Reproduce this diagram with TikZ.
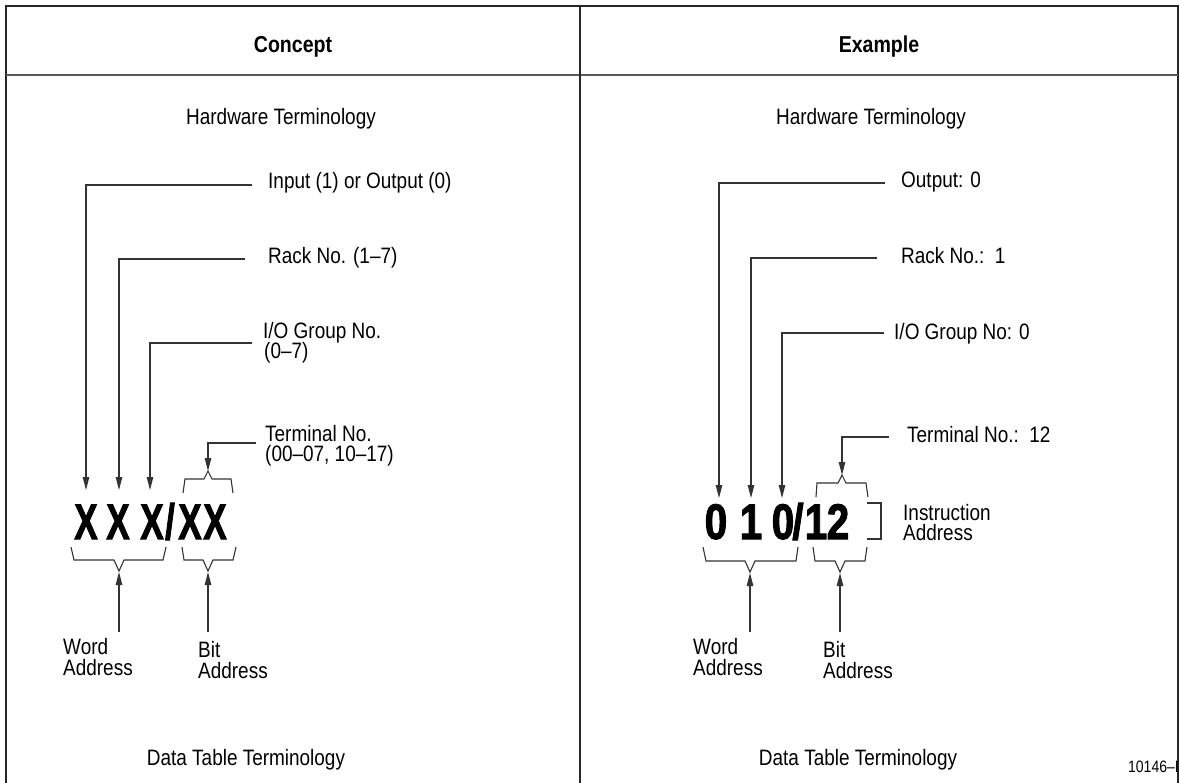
\documentclass[tikz,border=0pt]{standalone}
\usepackage{fontspec}
\setmainfont{Liberation Sans}[FakeStretch=0.85]
\newfontfamily\bigfont{Liberation Sans}[FakeStretch=0.85, BoldFeatures={FakeBold=2}]
\usetikzlibrary{arrows.meta}
\begin{document}
\begin{tikzpicture}[x=1pt,y=-1pt,
  lbl/.style={anchor=base west, inner sep=0pt, font=\fontsize{22.3}{21}\selectfont},
  ttl/.style={anchor=base, inner sep=0pt, font=\fontsize{22.3}{21}\selectfont},
  hdr/.style={anchor=base, inner sep=0pt, font=\fontsize{23}{23}\selectfont\bfseries},
  big/.style={anchor=base, inner sep=0pt, font=\fontsize{50}{50}\bigfont\bfseries},
  conn/.style={draw=black!80, line width=1.1pt},
  arr/.style={conn, -{Triangle[length=13pt,width=6.5pt]}},
  brk/.style={draw=black!80, line width=1.1pt, line join=miter},
  frm/.style={draw=black!85, line width=1.5pt},
]
\useasboundingbox (0,0) rectangle (1180,782);
% frame
\draw[frm] (6,790) -- (6,6) -- (1178,6) -- (1178,790);
\draw[frm, draw=black!65] (6,75) -- (1178,75);
\draw[frm, line width=1.2pt] (580,6) -- (580,790);

% headers
\node[hdr] (hc) at (293,52) {Concept};
\node[hdr] (he) at (879,52) {Example};
\node[ttl] (hwc) at (281,124) {Hardware Terminology};
\node[ttl] (hwe) at (871,124) {Hardware Terminology};
\node[ttl] (dtc) at (246,765) {Data Table Terminology};
\node[ttl] (dte) at (858,765) {Data Table Terminology};
\node[anchor=base east, inner sep=0pt, font=\fontsize{16.5}{16.5}\selectfont] (fig) at (1179,772) {10146–I};

% ---------- Concept ----------
\node[lbl] (cl1) at (268,188) {Input (1) or Output (0)};
\node[lbl] (cl2) at (268,263) {Rack No. (1–7)};
\node[lbl] (cl3a) at (263,338) {I/O Group No.};
\node[lbl] (cl3b) at (264,358) {(0–7)};
\node[lbl] (cl4a) at (265,441) {Terminal No.};
\node[lbl] (cl4b) at (265,461) {(00–07, 10–17)};

\node[big] (cx1) at (86,539) {\scalebox{0.82}[1]{X}};
\node[big] (cx2) at (118,539) {\scalebox{0.82}[1]{X}};
\node[big] (cx3) at (152,539) {\scalebox{0.82}[1]{X}};
\node[big] (cxs) at (170,539) {\scalebox{0.82}[1]{/}};
\node[big] (cx4) at (190,539) {\scalebox{0.82}[1]{X}};
\node[big] (cx5) at (215,539) {\scalebox{0.82}[1]{X}};

\coordinate (cs1) at (252,185);
\coordinate (cs2) at (245,259);
\coordinate (cs3) at (252,343);
\coordinate (cs4) at (256,443);
\coordinate (ct1) at (86,490);
\coordinate (ct2) at (119,490);
\coordinate (ct3) at (150,490);
\coordinate (ct4) at (208,471);
\draw[arr] (cs1) -| (ct1);
\draw[arr] (cs2) -| (ct2);
\draw[arr] (cs3) -| (ct3);
\draw[arr] (cs4) -| (ct4);

\draw[brk] (183,493) -- (185,479) -- (204,479) -- (208,471) -- (212,479) -- (231,479) -- (233,493);
\draw[brk] (71,547) -- (74,560) -- (114,560) -- (119,571) -- (124,560) -- (163,560) -- (166,547);
\draw[brk] (182,547) -- (184,560) -- (203,560) -- (208,571) -- (213,560) -- (233,560) -- (236,547);

\coordinate (cwb) at (119,632);
\coordinate (cwt) at (119,572);
\coordinate (cbb) at (208,632);
\coordinate (cbt) at (208,572);
\draw[arr] (cwb) -- (cwt);
\draw[arr] (cbb) -- (cbt);

\node[lbl] (cw1) at (63,654) {Word};
\node[lbl] (cw2) at (63,675) {Address};
\node[lbl] (cb1) at (198,657) {Bit};
\node[lbl] (cb2) at (198,678) {Address};

% ---------- Example ----------
\node[lbl] (el1) at (901,187) {Output: 0};
\node[lbl] (el2) at (901,263) {Rack No.:\ \ 1};
\node[lbl] (el3) at (894,339) {I/O Group No: 0};
\node[lbl] (el4) at (907,442) {Terminal No.:\ \ 12};

\node[big] (ed1) at (716,539) {\scalebox{0.95}[1]{0}};
\node[big] (ed2) at (751,539) {\scalebox{0.95}[1]{1}};
\node[big] (ed3) at (783,539) {\scalebox{0.95}[1]{0}};
\node[big] (eds) at (798,539) {\scalebox{0.95}[1]{/}};
\node[big] (ed4) at (816,539) {\scalebox{0.95}[1]{1}};
\node[big] (ed5) at (838,539) {\scalebox{0.95}[1]{2}};

\coordinate (es1) at (885,183);
\coordinate (es2) at (877,258);
\coordinate (es3) at (884,333);
\coordinate (es4) at (889,437);
\coordinate (et1) at (719,498);
\coordinate (et2) at (751,498);
\coordinate (et3) at (782,498);
\coordinate (et4) at (842,475);
\draw[arr] (es1) -| (et1);
\draw[arr] (es2) -| (et2);
\draw[arr] (es3) -| (et3);
\draw[arr] (es4) -| (et4);

\draw[brk] (816,497) -- (817,483) -- (838,483) -- (842,475) -- (846,483) -- (866,483) -- (868,497);
\draw[brk] (703,547) -- (706,561) -- (745,561) -- (750,572) -- (755,561) -- (796,561) -- (798,547);
\draw[brk] (813,547) -- (815,561) -- (835,561) -- (840,572) -- (845,561) -- (865,561) -- (867,547);
\draw[brk, line width=2pt] (867,503) -- (881,503) -- (881,539) -- (867,539);

\node[lbl] (ei1) at (903,520) {Instruction};
\node[lbl] (ei2) at (903,540) {Address};

\coordinate (ewb) at (750,632);
\coordinate (ewt) at (750,573);
\coordinate (ebb) at (840,632);
\coordinate (ebt) at (840,573);
\draw[arr] (ewb) -- (ewt);
\draw[arr] (ebb) -- (ebt);

\node[lbl] (ew1) at (693,654) {Word};
\node[lbl] (ew2) at (693,675) {Address};
\node[lbl] (eb1) at (823,657) {Bit};
\node[lbl] (eb2) at (823,678) {Address};
\end{tikzpicture}
\end{document}
